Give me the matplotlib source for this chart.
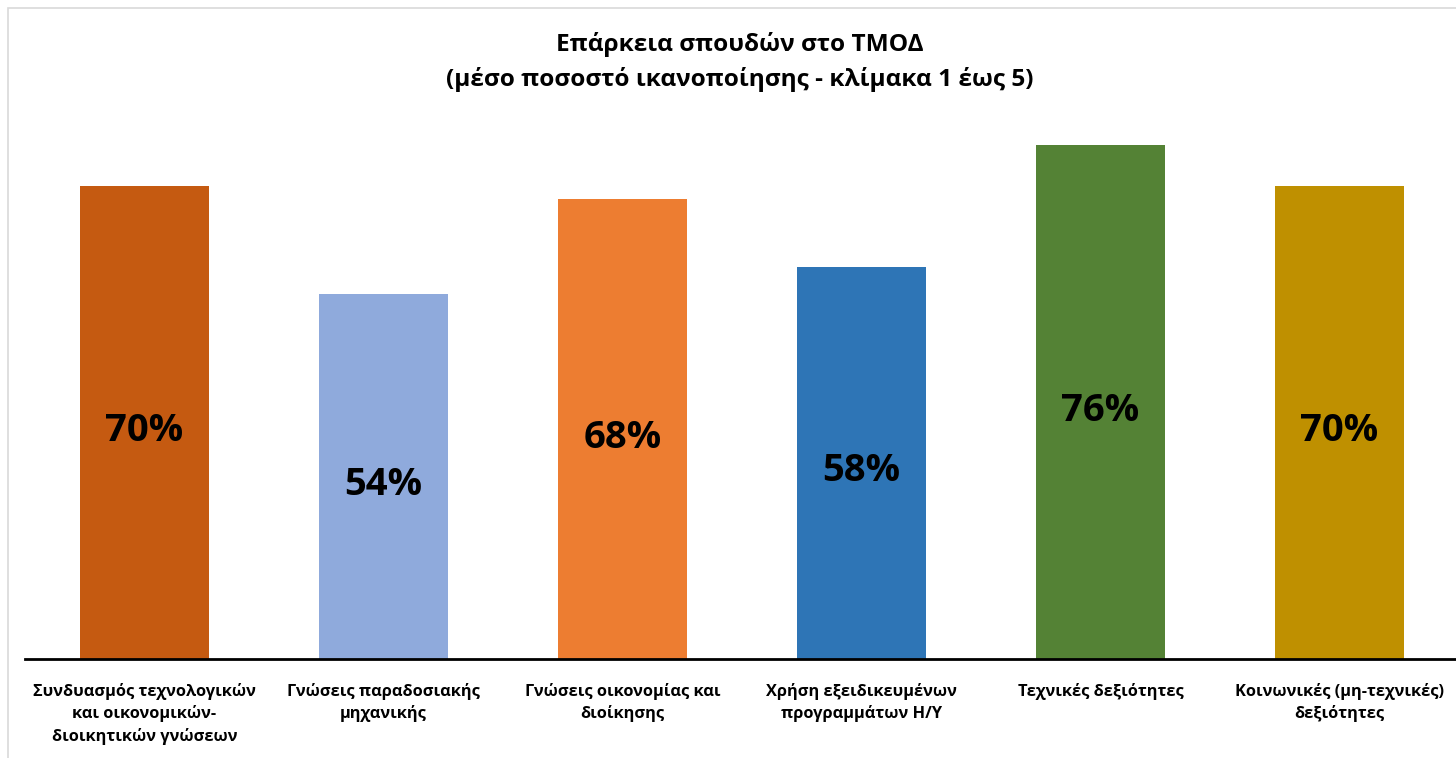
import matplotlib
matplotlib.use("Agg")
import matplotlib.pyplot as plt
from matplotlib.patches import Rectangle

plt.rcParams['font.family'] = ['Open Sans', 'DejaVu Sans']

categories = [
    "Συνδυασμός τεχνολογικών\nκαι οικονομικών-\nδιοικητικών γνώσεων",
    "Γνώσεις παραδοσιακής\nμηχανικής",
    "Γνώσεις οικονομίας και\nδιοίκησης",
    "Χρήση εξειδικευμένων\nπρογραμμάτων Η/Υ",
    "Τεχνικές δεξιότητες",
    "Κοινωνικές (μη-τεχνικές)\nδεξιότητες",
]
values = [70, 54, 68, 58, 76, 70]
colors = ["#C55A11", "#8FAADC", "#ED7D31", "#2E75B6", "#548235", "#BF9000"]
title = "Επάρκεια σπουδών στο ΤΜΟΔ\n(μέσο ποσοστό ικανοποίησης - κλίμακα 1 έως 5)"

W, H = 1456, 758
fig = plt.figure(figsize=(W / 100, H / 100), dpi=100)

# light frame of the original chart area
fig.patches.append(Rectangle((8 / W, -0.1), 1.2, 1.1 - 8 / H, transform=fig.transFigure,
                             fill=False, edgecolor="#D9D9D9", linewidth=1.2))

# axes: baseline at y=659, 6.76 px per percent
x0, x1 = 25, 1459
ybase = 659
ytop = ybase - 6.76 * 80
ax = fig.add_axes([x0 / W, 1 - ybase / H, (x1 - x0) / W, (ybase - ytop) / H])

xs = range(len(values))
bars = ax.bar(xs, values, width=0.54, color=colors)
ax.set_xlim(-0.5, len(values) - 0.5)
ax.set_ylim(0, 80)

for b, v in zip(bars, values):
    ax.text(b.get_x() + b.get_width() / 2, v / 2, f"{v}%", ha="center", va="center_baseline",
            fontsize=27.5, fontweight="bold", color="black",
            transform=ax.transData + matplotlib.transforms.ScaledTranslation(0, -0.04, fig.dpi_scale_trans))

ax.set_xticks(list(xs))
ax.set_xticklabels(categories, fontsize=11.8, fontweight="bold", linespacing=1.45)
ax.tick_params(axis="x", length=0, pad=17)
ax.set_yticks([])
for s in ["top", "right", "left"]:
    ax.spines[s].set_visible(False)
ax.spines["bottom"].set_linewidth(2)
ax.spines["bottom"].set_color("black")

fig.text(740 / W, 1 - 62 / H, title, ha="center", va="center", fontsize=17.6,
         fontweight="bold", linespacing=1.55)

fig.savefig("out.png", dpi=100)
